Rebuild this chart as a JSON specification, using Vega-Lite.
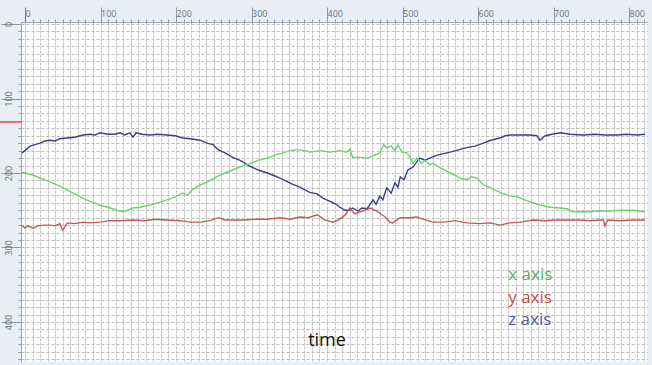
{
  "$schema": "https://vega.github.io/schema/vega-lite/v6.json",
  "width": 626,
  "height": 340,
  "autosize": "none",
  "padding": {"left": 21, "top": 22, "right": 5, "bottom": 3},
  "background": "#e9eef6",
  "config": {"view": {"stroke": null, "fill": "white"}},
  "layer": [
    {
      "data": {"values": [
    {"s":"z axis","t":-4,"v":173},{"s":"z axis","t":1,"v":169},{"s":"z axis","t":7,"v":164},{"s":"z axis","t":13,"v":162},{"s":"z axis","t":20,"v":160},{"s":"z axis","t":26,"v":157},{"s":"z axis","t":33,"v":156},{"s":"z axis","t":40,"v":157},{"s":"z axis","t":46,"v":154},{"s":"z axis","t":56,"v":153},{"s":"z axis","t":66,"v":152},{"s":"z axis","t":77,"v":149},{"s":"z axis","t":86,"v":148},{"s":"z axis","t":93,"v":149},{"s":"z axis","t":99,"v":146},{"s":"z axis","t":110,"v":148},{"s":"z axis","t":119,"v":148},{"s":"z axis","t":126,"v":146},{"s":"z axis","t":132,"v":149},{"s":"z axis","t":139,"v":146},{"s":"z axis","t":143,"v":152},{"s":"z axis","t":147,"v":146},{"s":"z axis","t":155,"v":148},{"s":"z axis","t":166,"v":149},{"s":"z axis","t":176,"v":148},{"s":"z axis","t":188,"v":149},{"s":"z axis","t":199,"v":150},{"s":"z axis","t":209,"v":153},{"s":"z axis","t":219,"v":154},{"s":"z axis","t":232,"v":156},{"s":"z axis","t":241,"v":160},{"s":"z axis","t":249,"v":162},{"s":"z axis","t":256,"v":169},{"s":"z axis","t":265,"v":173},{"s":"z axis","t":275,"v":179},{"s":"z axis","t":285,"v":183},{"s":"z axis","t":298,"v":191},{"s":"z axis","t":309,"v":196},{"s":"z axis","t":321,"v":200},{"s":"z axis","t":331,"v":204},{"s":"z axis","t":342,"v":209},{"s":"z axis","t":354,"v":215},{"s":"z axis","t":364,"v":219},{"s":"z axis","t":377,"v":226},{"s":"z axis","t":387,"v":228},{"s":"z axis","t":395,"v":234},{"s":"z axis","t":404,"v":238},{"s":"z axis","t":412,"v":242},{"s":"z axis","t":417,"v":246},{"s":"z axis","t":424,"v":250},{"s":"z axis","t":430,"v":250},{"s":"z axis","t":434,"v":247},{"s":"z axis","t":441,"v":251},{"s":"z axis","t":446,"v":247},{"s":"z axis","t":453,"v":248},{"s":"z axis","t":457,"v":242},{"s":"z axis","t":461,"v":236},{"s":"z axis","t":465,"v":242},{"s":"z axis","t":470,"v":231},{"s":"z axis","t":474,"v":236},{"s":"z axis","t":479,"v":220},{"s":"z axis","t":485,"v":227},{"s":"z axis","t":490,"v":213},{"s":"z axis","t":494,"v":219},{"s":"z axis","t":497,"v":205},{"s":"z axis","t":502,"v":209},{"s":"z axis","t":507,"v":196},{"s":"z axis","t":514,"v":192},{"s":"z axis","t":519,"v":185},{"s":"z axis","t":523,"v":180},{"s":"z axis","t":530,"v":183},{"s":"z axis","t":536,"v":180},{"s":"z axis","t":546,"v":176},{"s":"z axis","t":554,"v":174},{"s":"z axis","t":563,"v":172},{"s":"z axis","t":574,"v":169},{"s":"z axis","t":585,"v":166},{"s":"z axis","t":596,"v":164},{"s":"z axis","t":607,"v":160},{"s":"z axis","t":617,"v":156},{"s":"z axis","t":629,"v":153},{"s":"z axis","t":636,"v":150},{"s":"z axis","t":642,"v":149},{"s":"z axis","t":656,"v":149},{"s":"z axis","t":669,"v":149},{"s":"z axis","t":678,"v":150},{"s":"z axis","t":682,"v":156},{"s":"z axis","t":689,"v":150},{"s":"z axis","t":698,"v":148},{"s":"z axis","t":709,"v":146},{"s":"z axis","t":722,"v":148},{"s":"z axis","t":739,"v":149},{"s":"z axis","t":755,"v":148},{"s":"z axis","t":768,"v":149},{"s":"z axis","t":784,"v":149},{"s":"z axis","t":797,"v":148},{"s":"z axis","t":811,"v":149},{"s":"z axis","t":821,"v":148},
    {"s":"x axis","t":-4,"v":199},{"s":"x axis","t":4,"v":201},{"s":"x axis","t":11,"v":203},{"s":"x axis","t":20,"v":207},{"s":"x axis","t":26,"v":209},{"s":"x axis","t":33,"v":212},{"s":"x axis","t":42,"v":216},{"s":"x axis","t":49,"v":219},{"s":"x axis","t":56,"v":223},{"s":"x axis","t":66,"v":228},{"s":"x axis","t":77,"v":234},{"s":"x axis","t":86,"v":238},{"s":"x axis","t":99,"v":243},{"s":"x axis","t":110,"v":246},{"s":"x axis","t":122,"v":250},{"s":"x axis","t":130,"v":252},{"s":"x axis","t":136,"v":250},{"s":"x axis","t":143,"v":247},{"s":"x axis","t":152,"v":246},{"s":"x axis","t":166,"v":243},{"s":"x axis","t":176,"v":240},{"s":"x axis","t":188,"v":236},{"s":"x axis","t":199,"v":232},{"s":"x axis","t":209,"v":227},{"s":"x axis","t":215,"v":230},{"s":"x axis","t":221,"v":223},{"s":"x axis","t":232,"v":216},{"s":"x axis","t":242,"v":212},{"s":"x axis","t":254,"v":205},{"s":"x axis","t":265,"v":200},{"s":"x axis","t":275,"v":196},{"s":"x axis","t":287,"v":191},{"s":"x axis","t":298,"v":187},{"s":"x axis","t":309,"v":183},{"s":"x axis","t":321,"v":180},{"s":"x axis","t":331,"v":176},{"s":"x axis","t":342,"v":173},{"s":"x axis","t":351,"v":170},{"s":"x axis","t":358,"v":169},{"s":"x axis","t":364,"v":169},{"s":"x axis","t":371,"v":170},{"s":"x axis","t":377,"v":172},{"s":"x axis","t":391,"v":170},{"s":"x axis","t":404,"v":172},{"s":"x axis","t":417,"v":170},{"s":"x axis","t":426,"v":172},{"s":"x axis","t":430,"v":168},{"s":"x axis","t":434,"v":179},{"s":"x axis","t":444,"v":179},{"s":"x axis","t":453,"v":180},{"s":"x axis","t":461,"v":177},{"s":"x axis","t":470,"v":173},{"s":"x axis","t":475,"v":162},{"s":"x axis","t":479,"v":166},{"s":"x axis","t":485,"v":164},{"s":"x axis","t":490,"v":170},{"s":"x axis","t":494,"v":162},{"s":"x axis","t":499,"v":172},{"s":"x axis","t":506,"v":173},{"s":"x axis","t":510,"v":179},{"s":"x axis","t":514,"v":187},{"s":"x axis","t":519,"v":180},{"s":"x axis","t":525,"v":187},{"s":"x axis","t":530,"v":183},{"s":"x axis","t":536,"v":189},{"s":"x axis","t":540,"v":187},{"s":"x axis","t":550,"v":193},{"s":"x axis","t":556,"v":196},{"s":"x axis","t":563,"v":200},{"s":"x axis","t":570,"v":203},{"s":"x axis","t":576,"v":207},{"s":"x axis","t":585,"v":209},{"s":"x axis","t":592,"v":205},{"s":"x axis","t":599,"v":207},{"s":"x axis","t":607,"v":216},{"s":"x axis","t":617,"v":220},{"s":"x axis","t":629,"v":226},{"s":"x axis","t":640,"v":230},{"s":"x axis","t":652,"v":232},{"s":"x axis","t":662,"v":236},{"s":"x axis","t":673,"v":240},{"s":"x axis","t":682,"v":243},{"s":"x axis","t":695,"v":246},{"s":"x axis","t":709,"v":247},{"s":"x axis","t":718,"v":248},{"s":"x axis","t":726,"v":252},{"s":"x axis","t":735,"v":252},{"s":"x axis","t":748,"v":252},{"s":"x axis","t":762,"v":251},{"s":"x axis","t":775,"v":251},{"s":"x axis","t":788,"v":250},{"s":"x axis","t":805,"v":250},{"s":"x axis","t":821,"v":252},
    {"s":"y axis","t":-4,"v":270},{"s":"y axis","t":0,"v":274},{"s":"y axis","t":4,"v":271},{"s":"y axis","t":11,"v":274},{"s":"y axis","t":17,"v":271},{"s":"y axis","t":26,"v":270},{"s":"y axis","t":33,"v":270},{"s":"y axis","t":40,"v":271},{"s":"y axis","t":46,"v":268},{"s":"y axis","t":50,"v":277},{"s":"y axis","t":56,"v":267},{"s":"y axis","t":66,"v":268},{"s":"y axis","t":77,"v":266},{"s":"y axis","t":86,"v":267},{"s":"y axis","t":99,"v":266},{"s":"y axis","t":113,"v":264},{"s":"y axis","t":126,"v":264},{"s":"y axis","t":143,"v":263},{"s":"y axis","t":159,"v":264},{"s":"y axis","t":172,"v":262},{"s":"y axis","t":188,"v":263},{"s":"y axis","t":205,"v":264},{"s":"y axis","t":219,"v":266},{"s":"y axis","t":232,"v":266},{"s":"y axis","t":245,"v":264},{"s":"y axis","t":256,"v":260},{"s":"y axis","t":265,"v":263},{"s":"y axis","t":275,"v":263},{"s":"y axis","t":291,"v":263},{"s":"y axis","t":305,"v":262},{"s":"y axis","t":321,"v":262},{"s":"y axis","t":338,"v":260},{"s":"y axis","t":351,"v":262},{"s":"y axis","t":364,"v":259},{"s":"y axis","t":375,"v":260},{"s":"y axis","t":387,"v":256},{"s":"y axis","t":397,"v":263},{"s":"y axis","t":408,"v":266},{"s":"y axis","t":415,"v":263},{"s":"y axis","t":421,"v":259},{"s":"y axis","t":426,"v":254},{"s":"y axis","t":430,"v":247},{"s":"y axis","t":437,"v":255},{"s":"y axis","t":444,"v":252},{"s":"y axis","t":450,"v":250},{"s":"y axis","t":457,"v":247},{"s":"y axis","t":464,"v":250},{"s":"y axis","t":470,"v":254},{"s":"y axis","t":477,"v":259},{"s":"y axis","t":483,"v":266},{"s":"y axis","t":487,"v":267},{"s":"y axis","t":497,"v":260},{"s":"y axis","t":510,"v":260},{"s":"y axis","t":519,"v":259},{"s":"y axis","t":530,"v":263},{"s":"y axis","t":540,"v":266},{"s":"y axis","t":556,"v":266},{"s":"y axis","t":570,"v":264},{"s":"y axis","t":585,"v":267},{"s":"y axis","t":603,"v":268},{"s":"y axis","t":616,"v":267},{"s":"y axis","t":629,"v":270},{"s":"y axis","t":642,"v":267},{"s":"y axis","t":656,"v":266},{"s":"y axis","t":673,"v":263},{"s":"y axis","t":689,"v":264},{"s":"y axis","t":702,"v":263},{"s":"y axis","t":718,"v":263},{"s":"y axis","t":735,"v":263},{"s":"y axis","t":748,"v":264},{"s":"y axis","t":762,"v":263},{"s":"y axis","t":766,"v":263},{"s":"y axis","t":768,"v":271},{"s":"y axis","t":772,"v":263},{"s":"y axis","t":788,"v":264},{"s":"y axis","t":805,"v":263},{"s":"y axis","t":821,"v":263}
      ]},
      "mark": {"type": "line", "strokeWidth": 1.4, "clip": true},
      "encoding": {
        "x": {"field": "t", "type": "quantitative",
          "scale": {"domain": [-5.3, 823.8], "nice": false, "zero": false},
          "axis": {
            "orient": "top", "title": null, "tickCount": 82,
            "domain": true, "domainColor": "#9aa7b8",
            "tickColor": {"condition": {"test": "datum.value === 0", "value": "#e04848"}, "value": "#8d97a6"},
            "tickSize": {"condition": {"test": "datum.value % 100 === 0", "value": 15}, "value": 3},
            "labelExpr": "datum.value % 100 === 0 ? datum.label : ''",
            "labelAlign": "left", "labelBaseline": "middle", "labelPadding": -6, "labelDx": 1,
            "labelFont": "Open Sans", "labelFontSize": 9, "labelColor": "#66717f",
            "labelOverlap": false, "labelFlush": false, "labelBound": false,
            "grid": true, "gridColor": "#c2c2c2", "gridWidth": 1, "gridDash": [3, 1]
          }},
        "y": {"field": "v", "type": "quantitative",
          "scale": {"domain": [-2.7, 453.7], "nice": false, "zero": false, "reverse": true},
          "axis": {
            "orient": "left", "title": null, "tickCount": 45,
            "domain": true, "domainColor": "#9aa7b8",
            "tickColor": "#8d97a6",
            "tickSize": {"condition": {"test": "datum.value % 100 === 0", "value": 20}, "value": 3},
            "labelExpr": "datum.value % 100 === 0 ? datum.label : ''",
            "labelAngle": 270, "labelAlign": "center", "labelBaseline": "middle", "labelPadding": -7,
            "labelFont": "Open Sans", "labelFontSize": 9, "labelColor": "#66717f",
            "labelOverlap": false, "labelFlush": false, "labelBound": false,
            "grid": true, "gridColor": "#bdbdbd", "gridWidth": 1, "gridDash": [3, 2]
          }},
        "color": {"field": "s", "type": "nominal",
          "scale": {"domain": ["x axis", "y axis", "z axis"], "range": ["#6ad36a", "#c45858", "#3d3d8e"]},
          "legend": null}
      }
    },
    {
      "data": {"values": [{}]},
      "mark": {"type": "rule", "color": "#e04848", "strokeWidth": 1.5, "clip": false},
      "encoding": {"x": {"datum": -33, "type": "quantitative"}, "x2": {"datum": -5.3}, "y": {"datum": 131.5, "type": "quantitative"}}
    },
    {
      "data": {"values": [{}]},
      "mark": {"type": "text", "align": "left", "baseline": "middle", "font": "Open Sans", "fontSize": 17, "color": "#55b06a"},
      "encoding": {"x": {"datum": 640, "type": "quantitative"}, "y": {"datum": 337, "type": "quantitative"}, "text": {"value": "x axis"}}
    },
    {
      "data": {"values": [{}]},
      "mark": {"type": "text", "align": "left", "baseline": "middle", "font": "Open Sans", "fontSize": 17, "color": "#c24d4d"},
      "encoding": {"x": {"datum": 640, "type": "quantitative"}, "y": {"datum": 368, "type": "quantitative"}, "text": {"value": "y axis"}}
    },
    {
      "data": {"values": [{}]},
      "mark": {"type": "text", "align": "left", "baseline": "middle", "font": "Open Sans", "fontSize": 17, "color": "#5558a3"},
      "encoding": {"x": {"datum": 640, "type": "quantitative"}, "y": {"datum": 397, "type": "quantitative"}, "text": {"value": "z axis"}}
    },
    {
      "data": {"values": [{}]},
      "mark": {"type": "text", "align": "center", "baseline": "middle", "font": "Open Sans", "fontSize": 18, "color": "#111111"},
      "encoding": {"x": {"datum": 400, "type": "quantitative"}, "y": {"datum": 426, "type": "quantitative"}, "text": {"value": "time"}}
    }
  ]
}
